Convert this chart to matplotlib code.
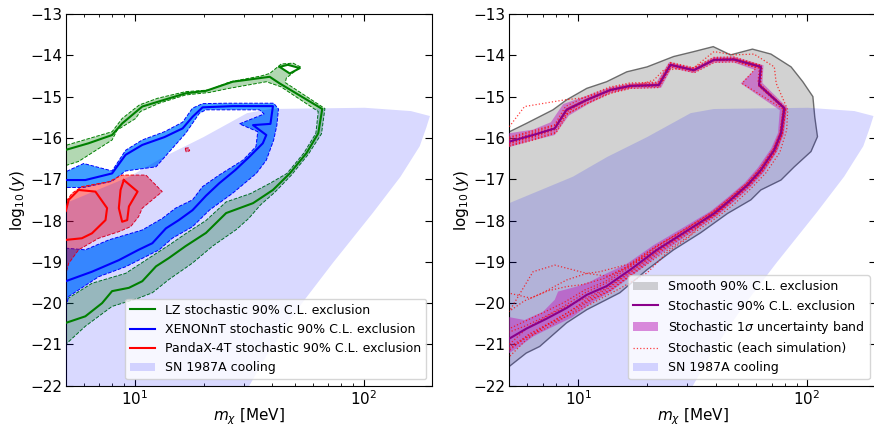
import matplotlib.pyplot as plt
from matplotlib.patches import Patch
from matplotlib.lines import Line2D

# SN 1987A cooling region (both panels)
sn_x = [4.8, 9.48, 13.4, 20.0, 31.0, 39.1, 101, 161, 195, 188, 176, 145, 110, 73.6, 52.7, 43.0, 37.7, 31.7, 30.0, 4.8]
sn_y = [-17.62, -16.94, -16.46, -15.98, -15.40, -15.30, -15.27, -15.35, -15.47, -15.75, -16.20, -16.94, -17.81,
        -19.02, -20.07, -20.79, -21.27, -22.0, -22.3, -22.3]

# ---- left panel: LZ ----
lz_x = [5.0, 6.29, 7.97, 8.82, 10.8, 16.7, 20.5, 26.8, 38.9, 43.0, 66.0, 63.4, 56.3, 47.6, 40.2, 32.9, 25.1,
        20.5, 16.7, 14.1, 12.4, 10.8, 9.44, 7.97, 7.21, 6.09, 5.0]
lz_y = [-16.29, -16.13, -15.93, -15.65, -15.24, -14.92, -14.86, -14.64, -14.52, -14.68, -15.30, -15.89, -16.37,
        -16.86, -17.26, -17.58, -17.82, -18.30, -18.62, -18.91, -19.11, -19.47, -19.63, -19.71, -20.0, -20.32, -20.48]
lz_loop_x = [43.0, 46.7, 52.7, 47.6, 43.0]
lz_loop_y = [-14.28, -14.23, -14.31, -14.44, -14.28]
lz_out_x = [4.8, 7.97, 8.82, 10.5, 12.6, 16.7, 21.1, 26.2, 35.7, 38.9, 43.7, 49.2, 53.0, 46.0, 45.5, 67.8, 65.5,
            57.3, 48.4, 40.9, 35.5, 31.5, 27.8, 21.9, 17.9, 14.1, 11.95, 10.4, 7.97, 6.09, 5.0, 4.8]
lz_out_y = [-16.21, -15.85, -15.53, -15.20, -15.04, -14.88, -14.84, -14.64, -14.50, -14.44, -14.21, -14.19, -14.28,
            -14.55, -14.66, -15.29, -15.90, -16.40, -16.90, -17.32, -17.62, -17.95, -18.22, -18.62, -19.03, -19.43,
            -19.75, -19.88, -20.08, -20.56, -21.0, -21.1]
lz_in_x = [4.8, 5.69, 7.97, 8.39, 10.1, 10.6, 12.8, 16.7, 21.2, 25.9, 37.6, 43.5, 63.4, 61.9, 54.8, 46.3, 39.0,
           32.0, 25.1, 20.5, 16.7, 14.1, 12.4, 9.13, 6.51, 5.0, 4.8]
lz_in_y = [-16.70, -16.57, -16.05, -15.81, -15.53, -15.36, -15.16, -14.96, -14.90, -14.80, -14.64, -14.76, -15.36,
           -15.89, -16.37, -16.86, -17.10, -17.35, -17.55, -18.0, -18.32, -18.60, -18.80, -19.28, -19.52, -19.92, -19.95]

# ---- left panel: XENONnT ----
xe_x = [5.0, 6.09, 7.97, 9.13, 10.8, 13.5, 16.2, 17.9, 19.8, 26.8, 40.2, 39.2, 32.9, 37.6, 36.3, 31.8, 27.5, 23.4,
        20.5, 17.9, 15.6, 13.7, 11.95, 10.4, 8.53, 6.51, 5.0]
xe_y = [-17.02, -17.02, -16.86, -16.41, -16.17, -15.98, -15.77, -15.49, -15.26, -15.23, -15.23, -15.66, -15.69,
        -15.93, -16.13, -16.45, -16.78, -17.10, -17.40, -17.75, -17.99, -18.19, -18.55, -18.71, -18.96, -19.24, -19.47]
xe_out_x = [4.8, 5.0, 5.99, 7.97, 9.13, 10.8, 13.5, 16.2, 17.9, 19.8, 25.0, 40.5, 42.5, 41.8, 40.5, 37.6, 34.0, 26.8,
            21.2, 17.9, 14.6, 12.8, 9.13, 6.97, 5.15, 5.0, 4.8]
xe_out_y = [-16.82, -16.82, -16.62, -16.80, -16.30, -16.05, -15.85, -15.62, -15.28, -15.17, -15.16, -15.16, -15.30,
            -15.70, -16.05, -16.54, -16.86, -17.34, -17.75, -18.15, -18.43, -18.71, -19.12, -19.36, -19.84, -20.12, -20.2]
xe_in_x = [4.8, 6.0, 7.97, 9.13, 12.4, 16.7, 19.2, 20.5, 35.1, 36.8, 28.7, 34.5, 33.9, 29.7, 23.4, 19.8, 17.9, 15.1,
           13.2, 10.8, 7.71, 6.09, 5.0, 4.8]
xe_in_y = [-17.20, -17.20, -17.05, -16.80, -16.70, -15.89, -15.40, -15.32, -15.32, -15.42, -15.66, -15.85, -16.21,
           -16.54, -16.90, -17.18, -17.50, -17.70, -17.95, -18.23, -18.47, -18.71, -18.67, -18.67]

# ---- left panel: PandaX-4T ----
px_loop1_x = [4.8, 5.0, 5.15, 5.69, 6.74, 7.58, 7.46, 6.51, 5.88, 5.0, 4.8]
px_loop1_y = [-17.80, -17.78, -17.50, -17.26, -17.30, -17.70, -17.99, -18.31, -18.43, -18.47, -18.47]
px_loop2_x = [8.97, 10.3, 9.44, 9.28, 8.82, 8.53, 8.68, 8.97]
px_loop2_y = [-17.02, -17.30, -17.66, -17.99, -18.03, -17.70, -17.26, -17.02]
px_band_x = [4.8, 5.0, 5.33, 5.88, 7.71, 8.82, 11.2, 13.2, 10.8, 10.4, 9.6, 8.53, 6.96, 5.69, 5.15, 5.0, 4.8]
px_band_y = [-17.55, -17.55, -17.34, -17.18, -17.06, -16.90, -16.90, -17.30, -17.70, -17.91, -18.15, -18.27,
             -18.43, -18.71, -19.04, -19.30, -19.35]
px_dot_x = [16.6, 17.2, 17.4, 16.8, 16.6]
px_dot_y = [-16.25, -16.24, -16.31, -16.34, -16.25]

# ---- right panel: smooth exclusion ----
sm_x = [4.8, 5.01, 5.93, 7.76, 8.89, 10.9, 13.3, 16.3, 20.0, 26.1, 32.0, 38.9, 46.3, 57.7, 69.5, 85.1, 95.8, 106,
        108, 111, 104, 87.9, 76.9, 62.8, 56.8, 44.9, 34.2, 26.1, 20.0, 15.2, 10.9, 8.89, 6.79, 5.93, 5.01, 4.8]
sm_y = [-15.90, -15.85, -15.65, -15.32, -15.08, -14.80, -14.64, -14.40, -14.28, -14.03, -13.91, -13.79, -13.99,
        -13.85, -13.97, -14.28, -14.64, -15.00, -15.49, -15.97, -16.33, -16.70, -17.02, -17.26, -17.50, -17.83,
        -18.30, -18.71, -19.19, -19.75, -20.16, -20.48, -21.05, -21.21, -21.53, -21.58]

# ---- right panel: stochastic exclusion ----
st_x = [5.0, 6.35, 7.90, 8.89, 10.9, 13.8, 16.9, 22.5, 25.3, 32.0, 39.2, 47.9, 62.8, 61.7, 79.5, 76.9, 71.9, 62.8,
        54.9, 46.3, 39.2, 28.9, 22.1, 16.9, 13.3, 10.9, 8.89, 7.26, 5.93, 5.0]
st_y = [-16.09, -15.93, -15.77, -15.32, -15.08, -14.84, -14.74, -14.72, -14.23, -14.36, -14.11, -14.10, -14.28,
        -14.72, -15.28, -15.89, -16.29, -16.78, -17.14, -17.50, -17.83, -18.30, -18.71, -19.19, -19.59, -19.80,
        -20.12, -20.38, -20.62, -20.86]
band_out_x = [4.8, 6.35, 7.6, 8.6, 10.9, 13.8, 16.9, 22.0, 25.0, 32.0, 39.2, 47.9, 64.5, 63.8, 81.8, 79.2, 74.0,
              64.8, 56.6, 47.6, 40.4, 29.8, 23.0, 17.5, 13.9, 11.4, 9.4, 7.5, 6.35, 5.55, 5.0, 4.8]
band_out_y = [-15.90, -15.80, -15.62, -15.18, -14.98, -14.77, -14.68, -14.65, -14.16, -14.30, -14.04, -14.03, -14.24,
              -14.67, -15.26, -15.91, -16.33, -16.83, -17.19, -17.56, -17.89, -18.37, -18.80, -19.30, -19.72, -20.0,
              -20.35, -20.61, -20.81, -21.05, -21.21, -21.3]
band_in_x = [4.8, 6.35, 7.9, 9.1, 11.0, 13.8, 16.9, 23.0, 25.6, 32.0, 39.2, 47.5, 59.0, 51.3, 76.0, 74.6, 69.6, 60.8,
             53.3, 45.0, 38.0, 27.8, 21.3, 16.3, 13.8, 12.4, 11.3, 9.84, 8.17, 7.9, 7.02, 5.83, 5.0, 4.8]
band_in_y = [-16.25, -16.06, -15.93, -15.46, -15.19, -14.92, -14.81, -14.79, -14.31, -14.43, -14.18, -14.17, -14.35,
             -14.68, -15.33, -15.88, -16.26, -16.73, -17.09, -17.44, -17.77, -18.22, -18.60, -19.05, -19.24, -19.36,
             -19.48, -19.60, -19.72, -19.92, -20.21, -20.41, -20.34, -20.33]

# individual simulations
sim1_x = [5.0, 5.83, 8.7, 10.9, 13.8, 16.9, 22.5, 25.3, 32.0, 39.2, 47.9, 62.8, 61.7, 80.2, 77.5, 72.5, 63.4, 55.4,
          46.8, 39.6, 29.2, 22.3, 17.1, 13.4, 11.0, 8.9, 7.2, 5.9, 5.0]
sim1_y = [-15.73, -15.24, -15.08, -15.02, -14.80, -14.70, -14.68, -14.19, -14.33, -14.08, -14.07, -14.25, -14.70,
          -15.27, -15.90, -16.31, -16.80, -17.16, -17.52, -17.86, -18.33, -18.75, -19.24, -19.66, -19.90, -20.25,
          -20.55, -20.90, -21.30]
sim2_x = [5.0, 6.4, 7.9, 8.9, 10.9, 13.8, 16.9, 21.4, 23.6, 32.0, 39.2, 47.9, 58.6, 71.9, 73.3, 82.3, 81.4, 76.0,
          66.0, 57.0, 48.0, 40.5, 30.0, 23.0, 17.5, 13.8, 11.2, 9.0, 7.3, 5.9, 5.0]
sim2_y = [-16.18, -16.02, -15.86, -15.42, -15.16, -14.90, -14.78, -14.60, -14.36, -14.30, -13.91, -13.99, -13.97,
          -14.28, -14.68, -15.32, -15.81, -16.35, -16.85, -17.22, -17.60, -17.92, -18.40, -18.82, -19.28, -19.70,
          -19.95, -20.30, -20.60, -20.85, -21.10]
sim3_x = [5.0, 6.3, 7.9, 9.0, 11.0, 14.0, 17.0, 22.8, 25.6, 32.0, 39.2, 48.0, 63.5, 62.5, 80.8, 78.0, 73.0, 64.0,
          55.5, 46.8, 39.8, 29.0, 22.0, 16.5, 13.5, 10.9, 7.9, 6.35, 5.0]
sim3_y = [-16.00, -15.86, -15.70, -15.28, -15.05, -14.82, -14.72, -14.70, -14.22, -14.35, -14.10, -14.08, -14.26,
          -14.70, -15.30, -15.92, -16.32, -16.80, -17.15, -17.50, -17.85, -18.28, -18.70, -19.10, -19.35, -19.28,
          -19.08, -19.24, -20.20]
sim4_x = [5.0, 6.4, 7.8, 9.0, 10.8, 13.8, 17.0, 22.3, 25.2, 32.0, 39.0, 47.8, 62.5, 61.3, 79.0, 76.5, 71.5, 62.5,
          54.0, 44.0, 36.0, 30.5, 24.4, 20.0, 15.5, 12.0, 9.5, 7.5, 6.0, 5.0]
sim4_y = [-16.12, -15.96, -15.80, -15.36, -15.10, -14.86, -14.76, -14.74, -14.25, -14.38, -14.13, -14.12, -14.30,
          -14.74, -15.30, -15.90, -16.30, -16.80, -17.17, -17.58, -17.95, -18.40, -18.78, -19.27, -19.62, -19.95,
          -20.25, -20.50, -20.80, -21.05]
sim5_x = [5.0, 6.3, 7.95, 8.85, 10.9, 13.8, 16.9, 22.4, 25.3, 32.0, 39.3, 48.0, 63.0, 61.8, 79.8, 77.2, 72.2, 63.0,
          55.0, 46.5, 39.4, 29.0, 22.2, 17.0, 13.0, 10.5, 8.9, 7.4, 6.2, 5.0]
sim5_y = [-16.05, -15.90, -15.74, -15.30, -15.06, -14.83, -14.73, -14.71, -14.22, -14.35, -14.10, -14.09, -14.27,
          -14.71, -15.28, -15.89, -16.29, -16.78, -17.14, -17.50, -17.83, -18.28, -18.68, -19.10, -19.40, -19.55,
          -19.60, -19.70, -19.88, -19.76]
sim6_x = [5.0, 6.35, 7.85, 8.9, 10.95, 13.8, 16.9, 22.6, 25.4, 32.0, 39.1, 47.8, 62.6, 61.5, 79.2, 76.6, 71.6, 62.6,
          54.7, 46.0, 39.0, 28.7, 21.9, 16.8, 12.4, 10.9, 8.9, 7.0, 5.8, 5.0]
sim6_y = [-16.14, -15.98, -15.81, -15.35, -15.10, -14.86, -14.76, -14.74, -14.25, -14.38, -14.13, -14.12, -14.30,
          -14.74, -15.29, -15.88, -16.28, -16.77, -17.12, -17.48, -17.80, -18.25, -18.62, -19.05, -19.24, -19.28,
          -19.44, -19.75, -19.95, -20.20]
sim7_x = [5.0, 6.3, 7.95, 8.95, 11.0, 13.9, 17.0, 22.4, 25.2, 32.1, 39.3, 48.1, 63.1, 62.0, 80.0, 77.4, 72.4, 63.2,
          55.2, 46.6, 39.5, 29.1, 22.3, 17.1, 13.5, 11.1, 9.1, 7.4, 6.0, 5.0]
sim7_y = [-16.06, -15.91, -15.75, -15.30, -15.07, -14.83, -14.73, -14.71, -14.22, -14.35, -14.10, -14.09, -14.27,
          -14.71, -15.27, -15.90, -16.30, -16.79, -17.15, -17.52, -17.85, -18.32, -18.74, -19.22, -19.62, -19.85,
          -20.05, -20.30, -20.60, -21.00]
sim8_x = [5.0, 6.3, 7.9, 8.8, 10.8, 13.7, 16.8, 22.4, 25.2, 31.9, 39.1, 47.8, 62.0, 61.0, 78.8, 76.2, 71.2, 62.2,
          54.4, 45.8, 38.8, 28.6, 21.8, 16.6, 13.1, 10.7, 8.7, 7.1, 5.8, 5.0]
sim8_y = [-15.98, -15.83, -15.68, -15.24, -15.00, -14.77, -14.67, -14.65, -14.17, -14.30, -14.05, -14.04, -14.23,
          -14.67, -15.27, -15.87, -16.26, -16.74, -17.10, -17.46, -17.78, -18.24, -18.64, -19.10, -19.48, -19.68,
          -19.98, -20.22, -20.45, -20.62]
sim9_x = [5.0, 6.4, 8.0, 9.0, 11.0, 13.9, 17.0, 22.6, 25.5, 32.2, 39.4, 48.2, 63.5, 62.3, 80.6, 78.0, 73.0, 63.8,
          55.8, 47.0, 39.8, 29.4, 22.5, 17.3, 13.6, 11.2, 9.2, 7.5, 6.1, 5.0]
sim9_y = [-16.20, -16.05, -15.88, -15.42, -15.16, -14.92, -14.80, -14.78, -14.29, -14.42, -14.17, -14.16, -14.33,
          -14.76, -15.30, -15.91, -16.33, -16.82, -17.18, -17.55, -17.88, -18.36, -18.78, -19.28, -19.70, -19.92,
          -20.20, -20.48, -20.75, -21.15]
sim10_x = [5.0, 6.35, 7.9, 8.9, 10.9, 13.8, 16.9, 22.5, 25.3, 32.0, 39.2, 47.9, 60.0, 52.0, 78.5, 76.0, 71.0, 62.0,
           54.2, 45.7, 38.7, 28.5, 21.7, 16.7, 13.2, 10.8, 8.8, 7.2, 5.9, 5.0]
sim10_y = [-16.10, -15.95, -15.78, -15.33, -15.09, -14.85, -14.75, -14.73, -14.24, -14.37, -14.12, -14.11, -14.30,
           -14.68, -15.30, -15.88, -16.27, -16.75, -17.11, -17.46, -17.79, -18.26, -18.66, -19.14, -19.52, -19.74,
           -20.05, -20.32, -20.55, -20.70]
sims = [(sim1_x, sim1_y), (sim2_x, sim2_y), (sim3_x, sim3_y), (sim4_x, sim4_y), (sim5_x, sim5_y),
        (sim6_x, sim6_y), (sim7_x, sim7_y), (sim8_x, sim8_y), (sim9_x, sim9_y), (sim10_x, sim10_y)]

sn_color = (0.0, 0.0, 1.0, 0.15)
band_color = (0.75, 0.19, 0.75, 0.55)
fs = 11

fig = plt.figure(figsize=(8.74, 4.26), dpi=100)
ax1 = fig.add_axes([0.0752, 0.0946, 0.4196, 0.8725])
ax2 = fig.add_axes([0.5827, 0.0946, 0.4196, 0.8725])

# Left panel
ax1.fill(lz_out_x + lz_in_x[::-1], lz_out_y + lz_in_y[::-1], facecolor=(0, 0.5, 0, 0.3),
         edgecolor='green', linestyle='--', lw=0.7, zorder=2)
ax1.fill(lz_loop_x, lz_loop_y, facecolor='white', edgecolor='none', zorder=2)
ax1.fill(xe_out_x + xe_in_x[::-1], xe_out_y + xe_in_y[::-1], facecolor=(0.25, 0.62, 1.0, 1.0),
         edgecolor='blue', linestyle='--', lw=0.7, zorder=2)
ax1.fill(px_band_x, px_band_y, facecolor=(1.0, 0.0, 0.0, 0.45),
         edgecolor='red', linestyle='--', lw=0.7, zorder=2)
ax1.fill(px_dot_x, px_dot_y, facecolor=(1.0, 0.0, 0.0, 0.45),
         edgecolor='red', linestyle='--', lw=0.7, zorder=2)
ax1.fill(sn_x, sn_y, facecolor=sn_color, edgecolor='none', zorder=3)
ax1.plot(lz_x, lz_y, color='green', lw=1.5, zorder=4)
ax1.plot(lz_loop_x, lz_loop_y, color='green', lw=1.5, zorder=4)
ax1.plot(xe_x, xe_y, color='blue', lw=1.5, zorder=4)
ax1.plot(px_loop1_x, px_loop1_y, color='red', lw=1.5, zorder=4)
ax1.plot(px_loop2_x, px_loop2_y, color='red', lw=1.5, zorder=4)

h1 = [Line2D([], [], color='green', lw=1.5), Line2D([], [], color='blue', lw=1.5),
      Line2D([], [], color='red', lw=1.5), Patch(facecolor=sn_color, edgecolor='none')]
l1 = ['LZ stochastic 90% C.L. exclusion', 'XENONnT stochastic 90% C.L. exclusion',
      'PandaX-4T stochastic 90% C.L. exclusion', 'SN 1987A cooling']
ax1.legend(h1, l1, loc='lower right', fontsize=9)

# Right panel
ax2.fill(sm_x, sm_y, facecolor=(0.5, 0.5, 0.5, 0.35), edgecolor=(0.3, 0.3, 0.3, 0.8), lw=1.0, zorder=1)
ax2.fill(sn_x, sn_y, facecolor=sn_color, edgecolor='none', zorder=2)
ax2.fill(band_out_x + band_in_x[::-1], band_out_y + band_in_y[::-1], facecolor=band_color,
         edgecolor='none', zorder=3)
for sx, sy in sims:
    ax2.plot(sx, sy, color='red', ls=':', lw=0.9, alpha=0.75, zorder=4)
ax2.plot(st_x, st_y, color='darkmagenta', lw=1.5, zorder=5)

h2 = [Patch(facecolor=(0.5, 0.5, 0.5, 0.35), edgecolor='none'), Line2D([], [], color='darkmagenta', lw=1.5),
      Patch(facecolor=band_color, edgecolor='none'),
      Line2D([], [], color='red', ls=':', lw=0.9, alpha=0.75), Patch(facecolor=sn_color, edgecolor='none')]
l2 = ['Smooth 90% C.L. exclusion', 'Stochastic 90% C.L. exclusion', r'Stochastic 1$\sigma$ uncertainty band',
      'Stochastic (each simulation)', 'SN 1987A cooling']
ax2.legend(h2, l2, loc='lower right', fontsize=9)

for ax in (ax1, ax2):
    ax.set_xscale('log')
    ax.set_xlim(5, 200)
    ax.set_ylim(-22, -13)
    ax.set_yticks(range(-22, -12))
    ax.tick_params(which='both', direction='in', top=True, right=True, labelsize=fs, pad=2.5)
    ax.tick_params(which='major', length=5)
    ax.tick_params(which='minor', length=2.5)
    ax.set_xlabel(r'$m_\chi$ [MeV]', fontsize=fs, labelpad=-1)
    ax.set_ylabel(r'$\log_{10}(y)$', fontsize=fs, labelpad=2)

fig.savefig('out.png', dpi=100)
